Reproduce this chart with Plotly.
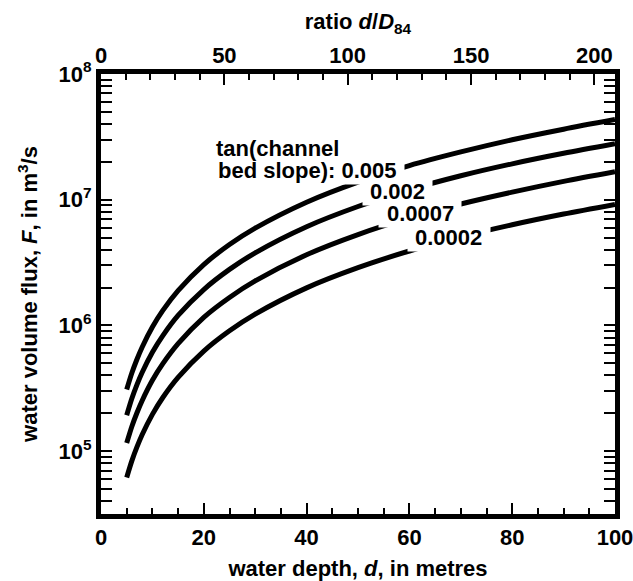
import plotly.graph_objects as go

# water depth d (m)
depth = [5, 6, 7, 8, 10, 12, 15, 20, 25, 30, 40, 50, 60, 70, 80, 90, 100]

# water volume flux F (m^3/s) for each channel bed slope
flux_0005 = [3.09e5, 4.18e5, 5.38e5, 6.71e5, 9.7e5, 1.31e6, 1.89e6, 3.05e6, 4.40e6, 5.94e6,
             9.55e6, 1.38e7, 1.87e7, 2.40e7, 3.00e7, 3.64e7, 4.34e7]
flux_0002 = [1.93e5, 2.62e5, 3.38e5, 4.22e5, 6.11e5, 8.26e5, 1.20e6, 1.93e6, 2.79e6, 3.78e6,
             6.10e6, 8.83e6, 1.20e7, 1.55e7, 1.93e7, 2.34e7, 2.79e7]
flux_00007 = [1.16e5, 1.57e5, 2.02e5, 2.52e5, 3.66e5, 4.94e5, 7.16e5, 1.16e6, 1.67e6, 2.26e6,
              3.65e6, 5.28e6, 7.16e6, 9.25e6, 1.15e7, 1.40e7, 1.67e7]
flux_00002 = [6.17e4, 8.36e4, 1.08e5, 1.35e5, 1.96e5, 2.66e5, 3.86e5, 6.25e5, 9.06e5, 1.23e6,
              1.99e6, 2.88e6, 3.91e6, 5.06e6, 6.32e6, 7.69e6, 9.18e6]

slope_labels = ["0.005", "0.002", "0.0007", "0.0002"]
series = [flux_0005, flux_0002, flux_00007, flux_00002]

D84 = 0.48  # m, for top ratio axis

x_ticks = [0, 20, 40, 60, 80, 100]
y_ticks = [1e5, 1e6, 1e7, 1e8]
y_ticktext = ["10<sup>5</sup>", "10<sup>6</sup>", "10<sup>7</sup>", "10<sup>8</sup>"]
ratio_ticks = [0, 50, 100, 150, 200]

FONT = dict(family="Liberation Sans, Arial, sans-serif", size=22, color="black", weight="bold")
WFONT = dict(FONT, color="white")

fig = go.Figure()
for ys in series:
    fig.add_trace(go.Scatter(x=depth, y=ys, mode="lines",
                             line=dict(color="black", width=5, shape="spline", smoothing=0.8),
                             showlegend=False, hoverinfo="skip"))
# dummy trace for the top (ratio) axis
fig.add_trace(go.Scatter(x=[0, 100 / D84], y=[None, None], xaxis="x2", yaxis="y",
                         mode="lines", showlegend=False, hoverinfo="skip"))

minor_y = [m * 10 ** e for e in range(4, 8) for m in range(2, 10)]

fig.update_layout(
    width=633, height=581,
    margin=dict(l=101, r=18, t=74, b=67),
    paper_bgcolor="white", plot_bgcolor="white",
    font=FONT,
    showlegend=False,
    xaxis=dict(range=[0, 100], tickvals=x_ticks, ticks="inside", ticklen=11, tickwidth=2,
               tickcolor="black", showline=True, linewidth=5, linecolor="black", mirror=True,
               showgrid=False, zeroline=False, tickfont=FONT, ticklabeloverflow="allow",
               automargin=False,
               minor=dict(dtick=5, tick0=0, ticks="inside", ticklen=6, tickwidth=2,
                          tickcolor="black", showgrid=False),
               title=dict(text="water depth, <i>d</i>, in metres", font=FONT, standoff=16)),
    xaxis2=dict(range=[0, 100 / D84], overlaying="x", side="top", anchor="y",
                tickvals=ratio_ticks, ticks="inside", ticklen=11, tickwidth=2, tickcolor="black",
                showline=False, showgrid=False, zeroline=False, tickfont=FONT,
                ticklabeloverflow="allow", ticklabelstandoff=6, automargin=False,
                minor=dict(dtick=10, tick0=0, ticks="inside", ticklen=6, tickwidth=2,
                           tickcolor="black", showgrid=False),
                title=dict(text="ratio <i>d</i>/<i>D</i><sub>84</sub>", font=FONT, standoff=6)),
    yaxis=dict(type="log", range=[4.5, 8], tickvals=y_ticks, ticktext=y_ticktext,
               ticks="inside", ticklen=11, tickwidth=2, tickcolor="black",
               showline=True, linewidth=5, linecolor="black", mirror="allticks",
               showgrid=False, zeroline=False, tickfont=FONT, automargin=False,
               minor=dict(tickvals=minor_y, ticks="inside", ticklen=6, tickwidth=2,
                          tickcolor="black", showgrid=False),
               title=dict(text="water volume flux, <i>F</i>, in m<sup>3</sup>/s", font=FONT,
                          standoff=16)),
)

# slope labels (centres); white boxes first (break the curves), then the text on top
label_pos = [(40.2, 7.230), (57.7, 7.063), (62.1, 6.889), (67.7, 6.698)]
texts = [("bed slope): " + lab) if i == 0 else lab for i, lab in enumerate(slope_labels)]
for text, (ax, ay) in zip(texts, label_pos):
    fig.add_annotation(x=ax, y=ay, xref="x", yref="y",
                       text="&nbsp;" + text + "&nbsp;", showarrow=False,
                       xanchor="center", yanchor="middle", font=WFONT,
                       bgcolor="white", borderpad=1)
for text, (ax, ay) in zip(texts, label_pos):
    fig.add_annotation(x=ax, y=ay, xref="x", yref="y", text=text, showarrow=False,
                       xanchor="center", yanchor="middle", font=FONT)
fig.add_annotation(x=34.3, y=7.405, xref="x", yref="y", text="tan(channel", showarrow=False,
                   xanchor="center", yanchor="middle", font=FONT)

fig.write_html("out.html")
